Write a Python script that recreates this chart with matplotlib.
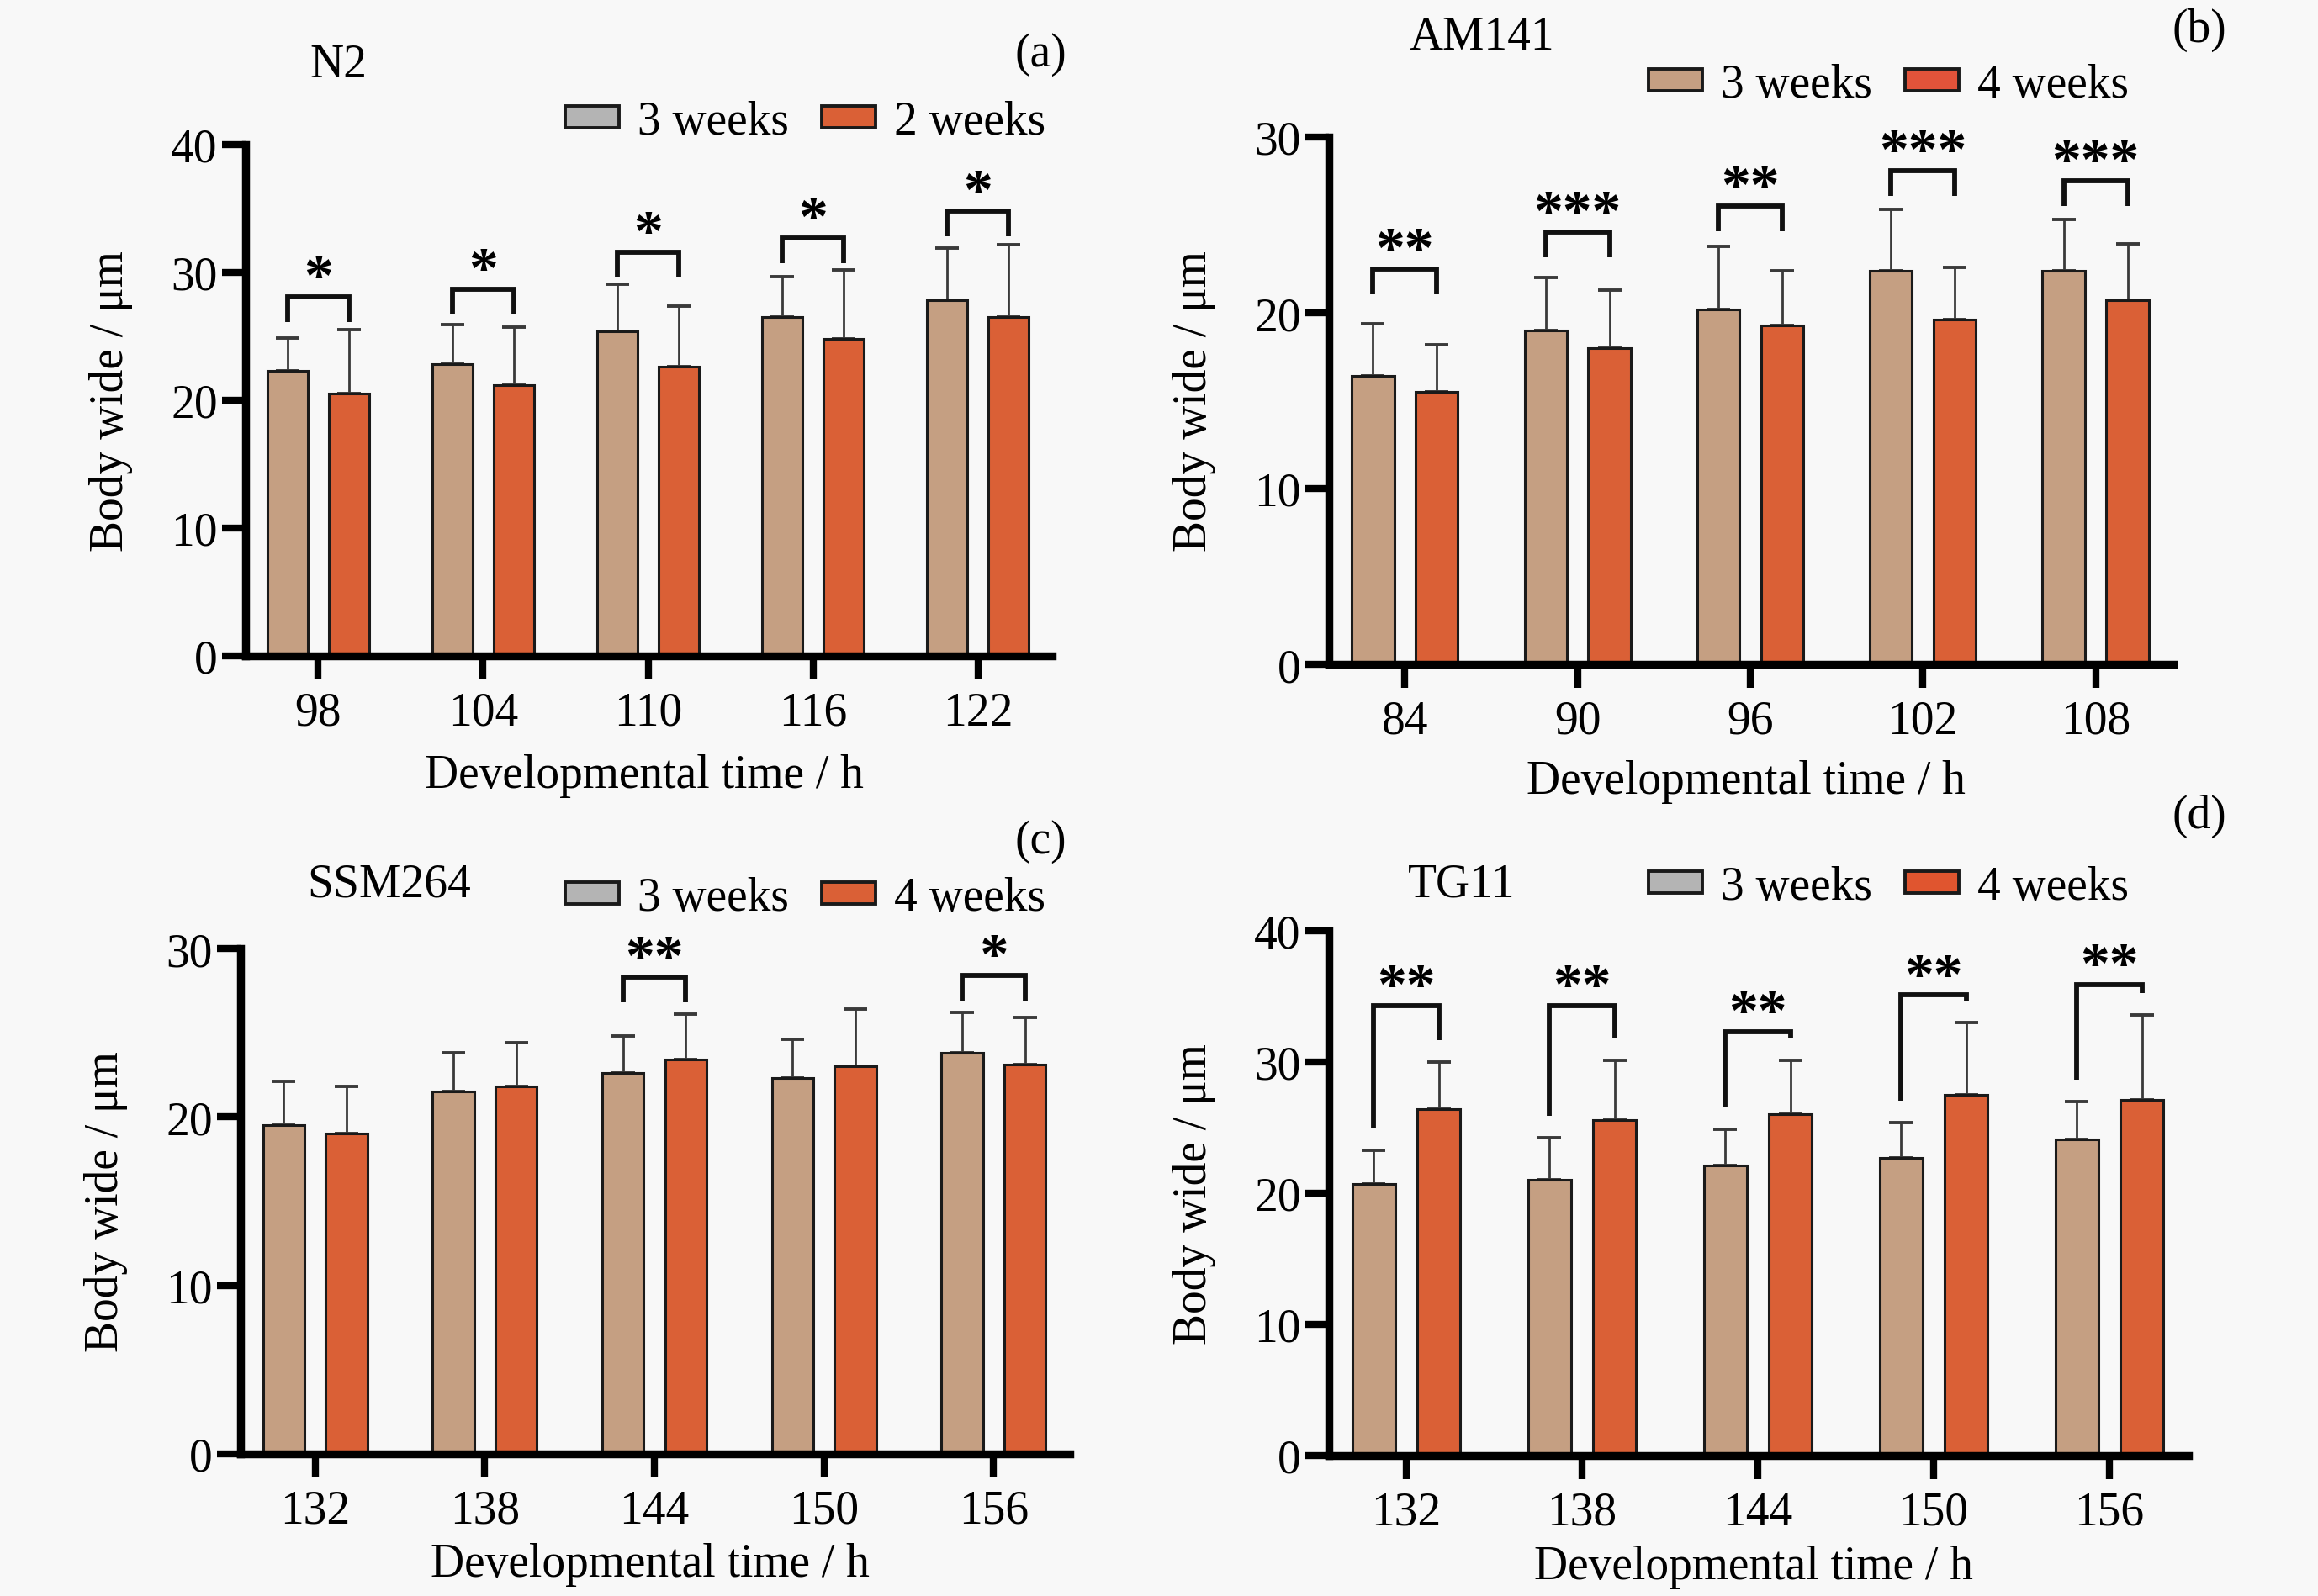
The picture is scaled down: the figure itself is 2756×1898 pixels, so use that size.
import numpy as np
import matplotlib.pyplot as plt
from matplotlib.patches import Patch

plt.rcParams['font.family'] = ['Liberation Serif', 'DejaVu Serif']

W, H = 2756, 1899  # reference size in pixels

# ---- data ----
# (a) N2
n2_hours = ['98', '104', '110', '116', '122']
n2_w3 = [22.3, 22.8, 25.4, 26.5, 27.8]
n2_w3_sd = [2.6, 3.1, 3.7, 3.2, 4.1]
n2_w2 = [20.5, 21.2, 22.6, 24.8, 26.5]
n2_w2_sd = [5.0, 4.5, 4.8, 5.4, 5.7]
n2_sig = ['*', '*', '*', '*', '*']
n2_brk = [28.1, 28.7, 31.6, 32.7, 34.8]

# (b) AM141
am_hours = ['84', '90', '96', '102', '108']
am_w3 = [16.4, 19.0, 20.2, 22.4, 22.4]
am_w3_sd = [3.0, 3.0, 3.6, 3.5, 2.9]
am_w4 = [15.5, 18.0, 19.3, 19.6, 20.7]
am_w4_sd = [2.7, 3.3, 3.1, 3.0, 3.2]
am_sig = ['**', '***', '**', '***', '***']
am_brk = [22.5, 24.6, 26.1, 28.1, 27.5]

# (c) SSM264
ssm_hours = ['132', '138', '144', '150', '156']
ssm_w3 = [19.5, 21.5, 22.6, 22.3, 23.8]
ssm_w3_sd = [2.6, 2.3, 2.2, 2.3, 2.4]
ssm_w4 = [19.0, 21.8, 23.4, 23.0, 23.1]
ssm_w4_sd = [2.8, 2.6, 2.7, 3.4, 2.8]
ssm_sig = ['', '', '**', '', '*']
ssm_brk = [None, None, 28.3, None, 28.4]

# (d) TG11
tg_hours = ['132', '138', '144', '150', '156']
tg_w3 = [20.7, 21.0, 22.1, 22.7, 24.1]
tg_w3_sd = [2.6, 3.2, 2.8, 2.7, 2.9]
tg_w4 = [26.4, 25.6, 26.0, 27.5, 27.1]
tg_w4_sd = [3.6, 4.5, 4.1, 5.5, 6.5]
tg_sig = ['**', '**', '**', '**', '**']
tg_brk = [34.3, 34.3, 32.3, 35.1, 35.9]

tan = '#c59f82'
orange = '#da6036'
bg = '#f8f8f8'


def fx(px):
    return px / W


def fy(py):
    return 1 - py / H


fig = plt.figure(figsize=(W / 200, H / 200), dpi=200, facecolor=bg)

panels = [
    dict(box=(292, 173, 1251, 781), hours=n2_hours, a=n2_w3, a_sd=n2_w3_sd, b=n2_w2, b_sd=n2_w2_sd,
         sig=n2_sig, brk=n2_brk, ymax=40, lab2='2 weeks', leg=('#b4b4b4', orange), leg_xy=(1243, 146),
         title='N2', title_xy=(402, 78), tag='(a)', tag_xy=(1237, 65), xlab_y=923, legs_to_err=False),
    dict(box=(1580, 164, 2584, 791), hours=am_hours, a=am_w3, a_sd=am_w3_sd, b=am_w4, b_sd=am_w4_sd,
         sig=am_sig, brk=am_brk, ymax=30, lab2='4 weeks', leg=(tan, '#e2533a'), leg_xy=(2531, 102),
         title='AM141', title_xy=(1762, 45), tag='(b)', tag_xy=(2615, 36), xlab_y=930, legs_to_err=False),
    dict(box=(286, 1129, 1272, 1730), hours=ssm_hours, a=ssm_w3, a_sd=ssm_w3_sd, b=ssm_w4, b_sd=ssm_w4_sd,
         sig=ssm_sig, brk=ssm_brk, ymax=30, lab2='4 weeks', leg=('#b4b4b4', orange), leg_xy=(1243, 1069),
         title='SSM264', title_xy=(463, 1053), tag='(c)', tag_xy=(1237, 1001), xlab_y=1861, legs_to_err=False),
    dict(box=(1580, 1108, 2602, 1732), hours=tg_hours, a=tg_w3, a_sd=tg_w3_sd, b=tg_w4, b_sd=tg_w4_sd,
         sig=tg_sig, brk=tg_brk, ymax=40, lab2='4 weeks', leg=('#b4b4b4', '#e0552f'), leg_xy=(2531, 1056),
         title='TG11', title_xy=(1738, 1053), tag='(d)', tag_xy=(2615, 971), xlab_y=1864, legs_to_err=True),
]

bw = 0.245
off = 0.185

for p in panels:
    x0, y0, x1, y1 = p['box']
    ax = fig.add_axes([fx(x0), fy(y1), (x1 - x0) / W, (y1 - y0) / H])
    ax.set_facecolor('none')
    x = np.arange(len(p['hours']))
    a = np.array(p['a'])
    b = np.array(p['b'])
    a_sd = np.array(p['a_sd'])
    b_sd = np.array(p['b_sd'])

    ax.errorbar(x - off, a, yerr=[np.zeros(len(x)), a_sd], fmt='none', ecolor='#3a3a3a',
                elinewidth=1.0, capsize=5, capthick=1.4, zorder=1)
    ax.errorbar(x + off, b, yerr=[np.zeros(len(x)), b_sd], fmt='none', ecolor='#3a3a3a',
                elinewidth=1.0, capsize=5, capthick=1.4, zorder=1)
    ax.bar(x - off, a, bw, color=tan, edgecolor='#1a1a1a', linewidth=1.1, zorder=2)
    ax.bar(x + off, b, bw, color=orange, edgecolor='#1a1a1a', linewidth=1.1, zorder=2)

    ax.set_xlim(-0.44, 4.45)
    ax.set_ylim(0, p['ymax'])
    ax.set_yticks(np.arange(0, p['ymax'] + 1, 10))
    ax.set_xticks(x)
    ax.set_xticklabels(p['hours'])
    for s in ['top', 'right']:
        ax.spines[s].set_visible(False)
    for s in ['left', 'bottom']:
        ax.spines[s].set_linewidth(3.4)
    ax.tick_params(axis='both', direction='out', length=10, width=3, labelsize=20)
    ax.tick_params(axis='y', pad=2)
    ax.tick_params(axis='x', pad=5)

    # significance brackets
    ppu = (y1 - y0) / p['ymax']
    for i in range(len(x)):
        if not p['sig'][i]:
            continue
        yb = p['brk'][i]
        if p['legs_to_err']:
            lb = a[i] + a_sd[i] + 26 / ppu
            rb = b[i] + b_sd[i] + 26 / ppu
        else:
            lb = rb = yb - 30 / ppu
        ax.plot([x[i] - off, x[i] - off, x[i] + off, x[i] + off], [lb, yb, yb, rb],
                color='#111111', lw=2.1, solid_joinstyle='miter', solid_capstyle='butt',
                clip_on=False, zorder=3)
        ax.annotate(p['sig'][i], (x[i], yb), xytext=(0, 1), textcoords='offset points',
                    ha='center', va='baseline', fontsize=25, fontweight='bold', annotation_clip=False)

    # labels
    fig.text(fx(x0 - 160), fy((y0 + y1) / 2), 'Body wide / μm', rotation=90,
             ha='center', va='center', fontsize=20)
    fig.text(fx((x0 + x1) / 2 - 6), fy(p['xlab_y']), 'Developmental time / h',
             ha='center', va='center', fontsize=20)
    fig.text(fx(p['title_xy'][0]), fy(p['title_xy'][1]), p['title'], ha='center', va='center', fontsize=20)
    fig.text(fx(p['tag_xy'][0]), fy(p['tag_xy'][1]), p['tag'], ha='center', va='center', fontsize=20)

    handles = [Patch(facecolor=p['leg'][0], edgecolor='#1a1a1a', linewidth=1.4, label='3 weeks'),
               Patch(facecolor=p['leg'][1], edgecolor='#1a1a1a', linewidth=1.4, label=p['lab2'])]
    fig.legend(handles=handles, loc='center right',
               bbox_to_anchor=(fx(p['leg_xy'][0]), fy(p['leg_xy'][1])), ncol=2, frameon=False,
               fontsize=20, borderpad=0, borderaxespad=0, handlelength=1.15, handleheight=0.35,
               handletextpad=0.4, columnspacing=0.7)

fig.savefig('out.png', dpi=200, facecolor=bg)
